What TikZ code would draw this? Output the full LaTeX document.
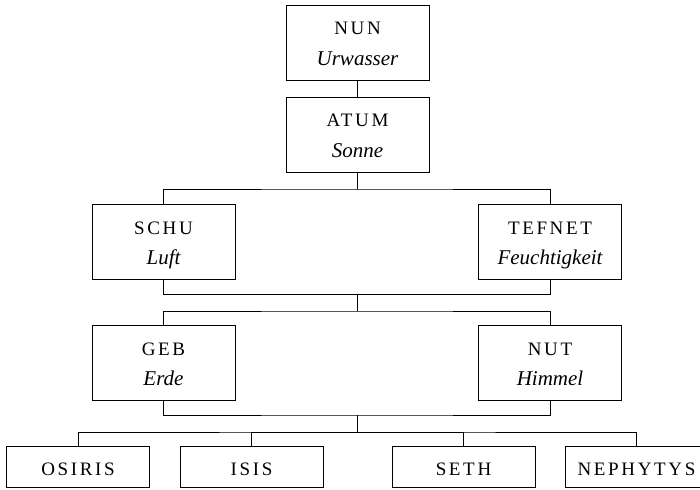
\documentclass[tikz,border=0pt]{standalone}
\usepackage{fontspec}
\setmainfont{Liberation Serif}
\newcommand\capsfnt{\fontsize{19}{21}\selectfont\addfontfeatures{LetterSpace=14}}
\newcommand\itfnt{\fontsize{21}{24}\selectfont\itshape}
\tikzset{
  godbox/.style={draw, line width=1pt, minimum width=143pt, minimum height=75pt, inner sep=0pt},
  kidbox/.style={draw, line width=1pt, minimum width=143pt, minimum height=41pt, inner sep=0pt},
  capstext/.style={inner sep=0pt, anchor=base, font=\capsfnt},
  ittext/.style={inner sep=0pt, anchor=base, font=\itfnt},
  link/.style={line width=1pt}
}
\newcommand\godnode[5]{%
  \node[godbox] (#1) at (#2,#3) {};
  \node[capstext] (#1-n) at (#2,#3-8) {#4};
  \node[ittext] (#1-d) at (#2,#3+22.5) {#5};
}
\newcommand\kidnode[3]{%
  \node[kidbox] (#1) at (#2,466.5) {};
  \node[capstext] (#1-n) at (#2,475) {#3};
}
\begin{document}
\begin{tikzpicture}[x=1pt,y=-1pt]
\useasboundingbox (0,0) rectangle (700,489);
\godnode{nun}{357.5}{43}{NUN}{Urwasser}
\godnode{atum}{357.5}{135}{ATUM}{Sonne}
\godnode{schu}{163.5}{242}{SCHU}{Luft}
\godnode{tefnet}{550}{242}{TEFNET}{Feuchtigkeit}
\godnode{geb}{163.5}{363}{GEB}{Erde}
\godnode{nut}{550}{363}{NUT}{Himmel}
\kidnode{osiris}{78}{OSIRIS}
\kidnode{isis}{251.5}{ISIS}
\kidnode{seth}{463.5}{SETH}
\kidnode{nephytys}{636.5}{NEPHYTYS}
\coordinate (j1) at (357.5,189);
\coordinate (m1) at (357.5,294.5);
\coordinate (m2) at (357.5,311);
\coordinate (n1) at (357.5,415);
\coordinate (n2) at (357.5,432);
\draw[link] (nun.south) -- (atum.north);
\draw[link] (atum.south) -- (j1);
\draw[link] (schu.north) |- (j1) -| (tefnet.north);
\draw[link] (schu.south) |- (m1) -| (tefnet.south);
\draw[link] (m1) -- (m2);
\draw[link] (geb.north) |- (m2) -| (nut.north);
\draw[link] (geb.south) |- (n1) -| (nut.south);
\draw[link] (n1) -- (n2);
\draw[link] (osiris.north) |- (n2) -| (nephytys.north);
\draw[link] (isis.north) |- (n2);
\draw[link] (seth.north) |- (n2);
\end{tikzpicture}
\end{document}
